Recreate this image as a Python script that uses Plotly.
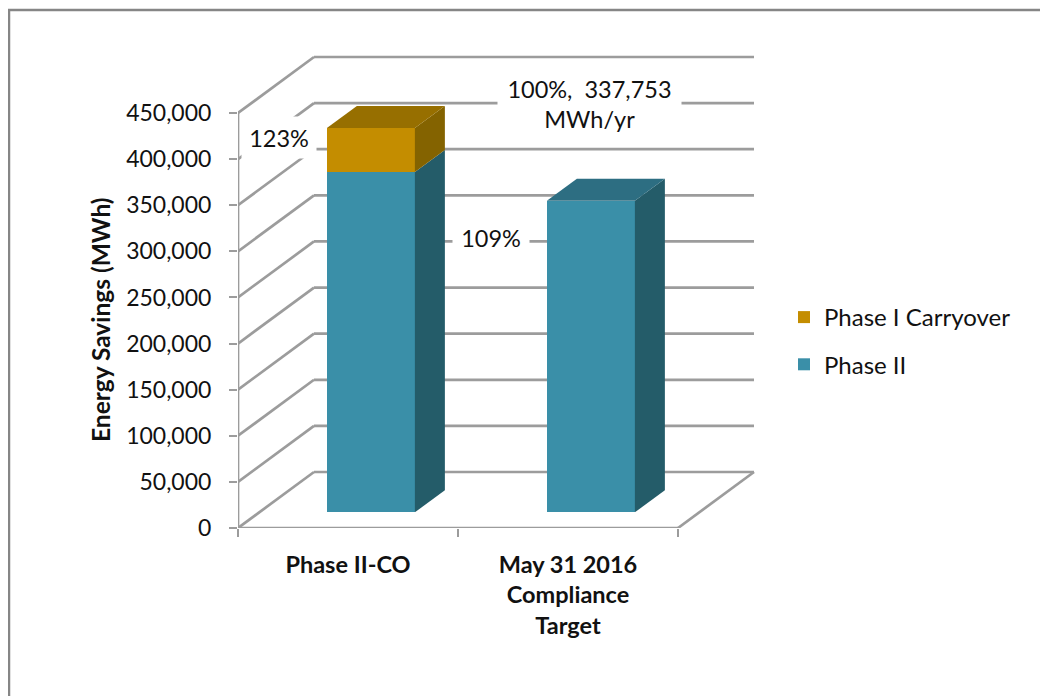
import plotly.graph_objects as go

CATEGORIES = ["Phase II-CO", "May 31 2016<br>Compliance<br>Target"]
PHASE_II = [369000, 337753]
CARRYOVER = [47700, 0]
Y_TICKS = [0, 50000, 100000, 150000, 200000, 250000, 300000, 350000, 400000, 450000]
LABELS = ["123%", "109%", "100%,  337,753<br>MWh/yr"]

W, H = 1048, 696
PAGE = 8  # page offset of the figure in the window
LEFT, RIGHT_PX, TOP, BOTTOM_PX = 238, 770, 40, 528
PX_X = 1 / 220
PX_Y = 450000 / 415
FONT = "Lato"
GRID = "#9C9C9C"
INK = "#111111"
TEAL, TEAL_SIDE, TEAL_TOP = "#3A8FA8", "#245C69", "#2D6E82"
GOLD, GOLD_SIDE, GOLD_TOP = "#C48D00", "#846300", "#976F00"

WALL_DX, WALL_DY = 76 * PX_X, 56 * PX_Y
BAR_DX, BAR_DY = 30 * PX_X, 22 * PX_Y
BASE = 15.7 * PX_Y
BAR_W = 88 * PX_X
X_POS = [i + 0.5 + 0.104 for i in range(len(CATEGORIES))]


def px(x):
    return (x - LEFT) * PX_X


def py(y):
    return (BOTTOM_PX - y) * PX_Y


def line(x0, y0, x1, y1):
    return dict(type="line", x0=x0, y0=y0, x1=x1, y1=y1, xref="x", yref="y", layer="below",
                line=dict(color=GRID, width=2.7))


shapes = []
back_right = 2 + WALL_DX
for t in Y_TICKS:
    shapes.append(line(0, t, WALL_DX, t + WALL_DY))
    shapes.append(line(WALL_DX, t + WALL_DY, back_right, t + WALL_DY))
shapes.append(line(0, 0, 0, Y_TICKS[-1]))
shapes.append(line(0, 0, 2, 0))
shapes.append(line(2, 0, back_right, WALL_DY))

# outer frame of the picture
pw, ph = RIGHT_PX - LEFT, BOTTOM_PX - TOP
fx = lambda p: (p - LEFT) / pw
fy = lambda p: (BOTTOM_PX - p) / ph
frame = dict(color="#868686", width=2.5)
shapes.append(dict(type="line", xref="paper", yref="paper", x0=fx(8), y0=fy(10), x1=fx(W), y1=fy(10), line=frame))
shapes.append(dict(type="line", xref="paper", yref="paper", x0=fx(9), y0=fy(10), x1=fx(9), y1=fy(H), line=frame))

fig = go.Figure()


def poly(xs, ys, color):
    fig.add_trace(go.Scatter(x=xs, y=ys, mode="lines", fill="toself", fillcolor=color,
                             line=dict(width=0, color=color), hoverinfo="skip", showlegend=False))


fig.add_trace(go.Bar(name="Phase II", x=X_POS, y=PHASE_II, base=[BASE] * 2, width=BAR_W,
                     marker=dict(color=TEAL, line=dict(width=0)), legendgroup="b", legendrank=2))
fig.add_trace(go.Bar(name="Phase I Carryover", x=X_POS, y=CARRYOVER,
                     base=[BASE + v for v in PHASE_II], width=BAR_W,
                     marker=dict(color=GOLD, line=dict(width=0)), legendgroup="a", legendrank=1))

for x, a, b in zip(X_POS, PHASE_II, CARRYOVER):
    r = x + BAR_W / 2
    l = x - BAR_W / 2
    y0, y1, y2 = BASE, BASE + a, BASE + a + b
    poly([r, r + BAR_DX, r + BAR_DX, r, r], [y0, y0 + BAR_DY, y1 + BAR_DY, y1, y0], TEAL_SIDE)
    if b:
        poly([r, r + BAR_DX, r + BAR_DX, r, r], [y1, y1 + BAR_DY, y2 + BAR_DY, y2, y1], GOLD_SIDE)
    poly([l, r, r + BAR_DX, l + BAR_DX, l], [y2, y2, y2 + BAR_DY, y2 + BAR_DY, y2], GOLD_TOP if b else TEAL_TOP)

txt = dict(family=FONT, size=23.5, color=INK)
annotations = [
    dict(x=px(279), y=py(137), text=LABELS[0], width=74, height=41, bgcolor="white"),
    dict(x=px(491), y=py(238), text=LABELS[1], width=76, height=36, bgcolor="white"),
    dict(x=px(589.5), y=py(104), text=LABELS[2], width=183, height=66, bgcolor="white"),
]
for a in annotations:
    a.update(xref="x", yref="y", showarrow=False, font=txt, borderpad=0)
annotations.append(dict(xref="paper", yref="y", x=fx(100), y=py(320), text="<b>Energy Savings (MWh)</b>",
                        xanchor="center", yanchor="middle", textangle=-90, showarrow=False,
                        font=dict(family=FONT, size=24.5, color=INK)))

fig.update_layout(
    width=W - PAGE, height=H - PAGE, autosize=False,
    margin=dict(l=LEFT - PAGE, r=W - RIGHT_PX, t=TOP - PAGE, b=H - BOTTOM_PX, pad=0),
    paper_bgcolor="white", plot_bgcolor="white",
    barmode="overlay", bargap=0,
    shapes=shapes, annotations=annotations,
    font=dict(family=FONT, color=INK),
    legend=dict(x=fx(784), y=fy(295), xanchor="left", yanchor="top", traceorder="grouped",
                tracegroupgap=13, font=dict(family=FONT, size=24, color=INK),
                bgcolor="rgba(0,0,0,0)", itemclick=False, itemdoubleclick=False),
    xaxis=dict(range=[0, (RIGHT_PX - LEFT) * PX_X], tickvals=[0.5, 1.5], ticktext=[f"<b>{c}</b>" for c in CATEGORIES],
               ticks="", showgrid=False, zeroline=False, showline=False, tickangle=0, automargin=False,
               tickfont=dict(family=FONT, size=23.5, color=INK), ticklabelstandoff=20,
               minor=dict(tickvals=[0, 1, 2], ticks="outside", ticklen=8, tickcolor=GRID, tickwidth=2, showgrid=False)),
    yaxis=dict(range=[0, (BOTTOM_PX - TOP) * PX_Y], tickvals=Y_TICKS, tickformat=",d", ticks="outside", ticklen=8,
               tickcolor=GRID, tickwidth=2, showgrid=False, zeroline=False, showline=False, automargin=False,
               tickfont=dict(family=FONT, size=23, color=INK), ticklabelstandoff=13),
)

fig.write_html("out.html", config=dict(displayModeBar=False))
